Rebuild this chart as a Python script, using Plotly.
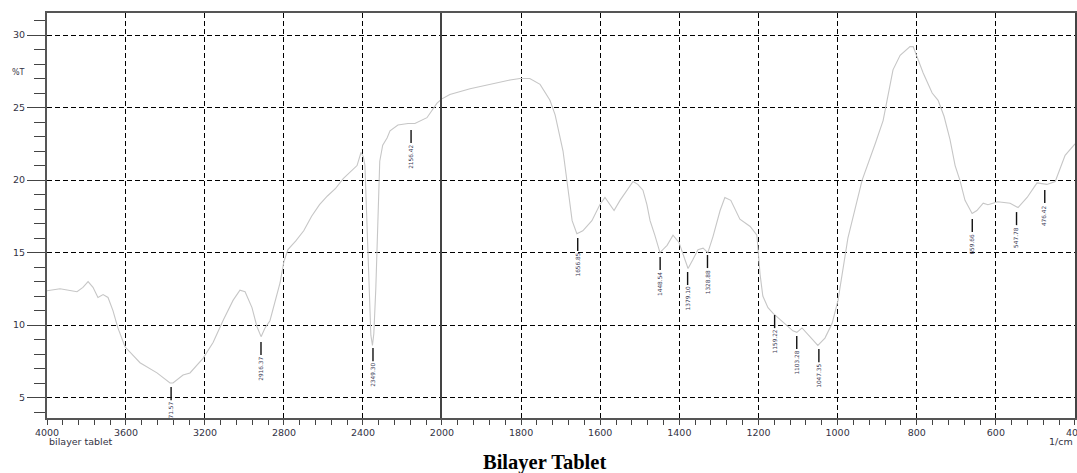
import plotly.graph_objects as go
from plotly.subplots import make_subplots

# ---------------- data ----------------
# high-wavenumber segment (4000 -> 2000 cm-1, compressed scale)
left_wn = [4000, 3934, 3848, 3818, 3792, 3767, 3742, 3716, 3691, 3666, 3641, 3605,
           3529, 3443, 3377, 3362, 3311, 3276, 3210, 3159, 3109, 3058, 3023, 2997,
           2962, 2937, 2916, 2896, 2871, 2820, 2800, 2780, 2740, 2700, 2660, 2620,
           2580, 2540, 2500, 2460, 2430, 2410, 2398, 2390, 2380, 2370, 2360, 2352,
           2345, 2335, 2325, 2315, 2300, 2278, 2263, 2223, 2172, 2137, 2076, 2025, 2000]
left_T = [12.36, 12.5, 12.3, 12.6, 13.0, 12.6, 11.9, 12.1, 11.9, 11.0, 9.8, 8.5,
          7.4, 6.7, 6.0, 6.0, 6.55, 6.7, 7.7, 8.8, 10.3, 11.7, 12.4, 12.3,
          11.2, 9.9, 9.2, 9.8, 10.3, 12.9, 14.4, 15.2, 15.8, 16.5, 17.5, 18.3,
          18.9, 19.4, 20.1, 20.6, 21.0, 21.9, 21.6, 21.0, 17.0, 12.0, 9.3, 8.6,
          9.4, 12.5, 17.5, 21.3, 22.4, 22.9, 23.4, 23.8, 23.9, 23.9, 24.3, 25.3, 25.6]

# low-wavenumber segment (2000 -> 400 cm-1)
right_wn = [2000, 1980, 1929, 1879, 1828, 1803, 1778, 1752, 1727, 1714, 1694, 1681,
            1671, 1659, 1644, 1621, 1601, 1588, 1575, 1565, 1550, 1530, 1517, 1505,
            1492, 1482, 1474, 1462, 1449, 1431, 1416, 1401, 1386, 1378, 1366, 1353,
            1340, 1328, 1315, 1297, 1285, 1270, 1247, 1221, 1204, 1196, 1189, 1176,
            1163, 1133, 1113, 1103, 1090, 1070, 1050, 1032, 1014, 999, 986, 974,
            956, 938, 905, 885, 875, 860, 842, 817, 809, 797, 784, 761, 746, 731,
            716, 703, 691, 678, 660, 648, 632, 620, 595, 564, 544, 521, 496, 471,
            450, 425, 400]
right_T = [25.6, 25.9, 26.3, 26.6, 26.9, 27.0, 27.0, 26.6, 25.5, 24.5, 22.0, 19.3,
           17.2, 16.3, 16.5, 17.2, 18.3, 18.8, 18.3, 17.9, 18.6, 19.4, 19.9, 19.7,
           19.3, 18.3, 17.2, 16.2, 15.0, 15.5, 16.2, 15.7, 14.5, 13.9, 14.5, 15.2,
           15.3, 15.0, 16.1, 17.9, 18.8, 18.6, 17.3, 16.8, 16.2, 13.5, 12.0, 11.2,
           10.8, 10.1, 9.6, 9.5, 9.8, 9.2, 8.6, 9.1, 10.1, 11.7, 14.0, 16.0,
           18.0, 20.0, 22.5, 24.1, 25.5, 27.6, 28.6, 29.2, 29.2, 28.3, 27.4, 26.0,
           25.5, 24.4, 22.8, 21.0, 20.0, 18.6, 17.7, 17.9, 18.4, 18.3, 18.5, 18.4,
           18.1, 18.8, 19.8, 19.7, 19.9, 21.7, 22.5]

# peak picks: wavenumber, label text, %T at top of the marker tick
peak_wn = [3371.57, 2916.37, 2349.30, 2156.42, 1656.85, 1448.54, 1379.10,
           1328.88, 1159.22, 1103.28, 1047.35, 659.66, 547.78, 476.42]
peak_text = ["71.57", "2916.37", "2349.30", "2156.42", "1656.85", "1448.54", "1379.10",
             "1328.88", "1159.22", "1103.28", "1047.35", "659.66", "547.78", "476.42"]
peak_tick_T = [5.72, 8.83, 8.41, 23.45, 16.0, 14.69, 13.66,
               14.83, 10.69, 9.24, 8.34, 17.31, 17.79, 19.31]

x_left_ticks = [4000, 3600, 3200, 2800, 2400]
y_range = [3.59, 31.52]
split_wn = 2000

TICK_LEN = 0.9  # %T units

# ---------------- figure ----------------
fig = make_subplots(rows=1, cols=2, shared_yaxes=True, horizontal_spacing=0,
                    column_widths=[0.3842, 0.6158])

spec_line = dict(color="#c6c6c6", width=1.1)
fig.add_trace(go.Scatter(x=left_wn, y=left_T, mode="lines", line=spec_line,
                         showlegend=False, hoverinfo="x+y"), row=1, col=1)
fig.add_trace(go.Scatter(x=right_wn, y=right_T, mode="lines", line=spec_line,
                         showlegend=False, hoverinfo="x+y"), row=1, col=2)

annotations = []
for side, col in (("left", 1), ("right", 2)):
    xs, ys = [], []
    for wn, txt, t in zip(peak_wn, peak_text, peak_tick_T):
        if (wn > split_wn) != (side == "left"):
            continue
        xs += [wn, wn, None]
        ys += [t, t - TICK_LEN, None]
        annotations.append(dict(
            x=wn, y=t - TICK_LEN - 0.05, xref="x" if col == 1 else "x2", yref="y",
            text=txt, textangle=-90, showarrow=False, xanchor="center", yanchor="top",
            font=dict(family="DejaVu Sans", size=5.8, color="#3a3a55"),
            borderpad=0))
    fig.add_trace(go.Scatter(x=xs, y=ys, mode="lines",
                             line=dict(color="#111111", width=1.4),
                             showlegend=False, hoverinfo="skip"), row=1, col=col)

tick_font = dict(family="DejaVu Sans", size=9.5, color="#333344")
annotations += [
    dict(x=-0.0282, y=0.854, xref="paper", yref="paper", text="%T", showarrow=False,
         xanchor="center", yanchor="middle", font=dict(family="DejaVu Sans", size=8, color="#333344")),
    dict(x=0.0, y=-0.059, xref="paper", yref="paper", text="bilayer tablet", showarrow=False,
         xanchor="left", yanchor="middle", font=tick_font),
    dict(x=1.0, y=-0.059, xref="paper", yref="paper", text="1/cm", showarrow=False,
         xanchor="right", yanchor="middle", font=tick_font),
    dict(x=0.4835, y=-0.111, xref="paper", yref="paper", text="<b>Bilayer Tablet</b>",
         showarrow=False, xanchor="center", yanchor="middle",
         font=dict(family="Liberation Serif, Times New Roman, serif", size=20.5, color="#000000")),
]

grid = dict(showgrid=True, gridcolor="#000000", gridwidth=1, griddash="5px,3px")

fig.update_layout(
    width=1077, height=473,
    margin=dict(l=47, r=2, t=13, b=55, autoexpand=False),
    paper_bgcolor="white", plot_bgcolor="white",
    showlegend=False,
    annotations=annotations,
    xaxis=dict(domain=[0, 0.3842], range=[4000, 2000], tickmode="array",
               tickvals=x_left_ticks, ticks="outside", ticklen=5, tickwidth=1.3,
               tickcolor="#444444", showline=True, linecolor="#555555", linewidth=2,
               mirror=True, zeroline=False, tickfont=tick_font,
               ticklabeloverflow="allow",
               minor=dict(tick0=0, dtick=80, ticks="outside", ticklen=5, tickwidth=1.3,
                          tickcolor="#444444", showgrid=False),
               **grid),
    xaxis2=dict(domain=[0.3842, 1], range=[2000, 400], tick0=0, dtick=200,
                ticks="outside", ticklen=5, tickwidth=1.3, tickcolor="#444444",
                showline=True, linecolor="#555555", linewidth=2, mirror=True,
                zeroline=False, tickfont=tick_font, ticklabeloverflow="allow",
                minor=dict(tick0=0, dtick=40, ticks="outside", ticklen=5, tickwidth=1.3,
                           tickcolor="#444444", showgrid=False),
                **grid),
    yaxis=dict(range=y_range, tick0=0, dtick=5, ticks="outside", ticklen=18, tickwidth=1.3,
               tickcolor="#444444", showline=True, linecolor="#555555", linewidth=2,
               zeroline=False, tickfont=tick_font,
               minor=dict(tick0=0, dtick=1, ticks="outside", ticklen=11, tickwidth=1.3,
                          tickcolor="#444444", showgrid=False),
               **grid),
    yaxis2=dict(range=y_range, tick0=0, dtick=5, ticks="", showticklabels=False,
                showline=True, linecolor="#444444", linewidth=1.6, mirror=True,
                zeroline=False, **grid),
)

fig.write_html(
    "out.html",
    config={"displayModeBar": False},
    post_script="document.body.style.margin='0';document.body.style.overflow='hidden';",
)
